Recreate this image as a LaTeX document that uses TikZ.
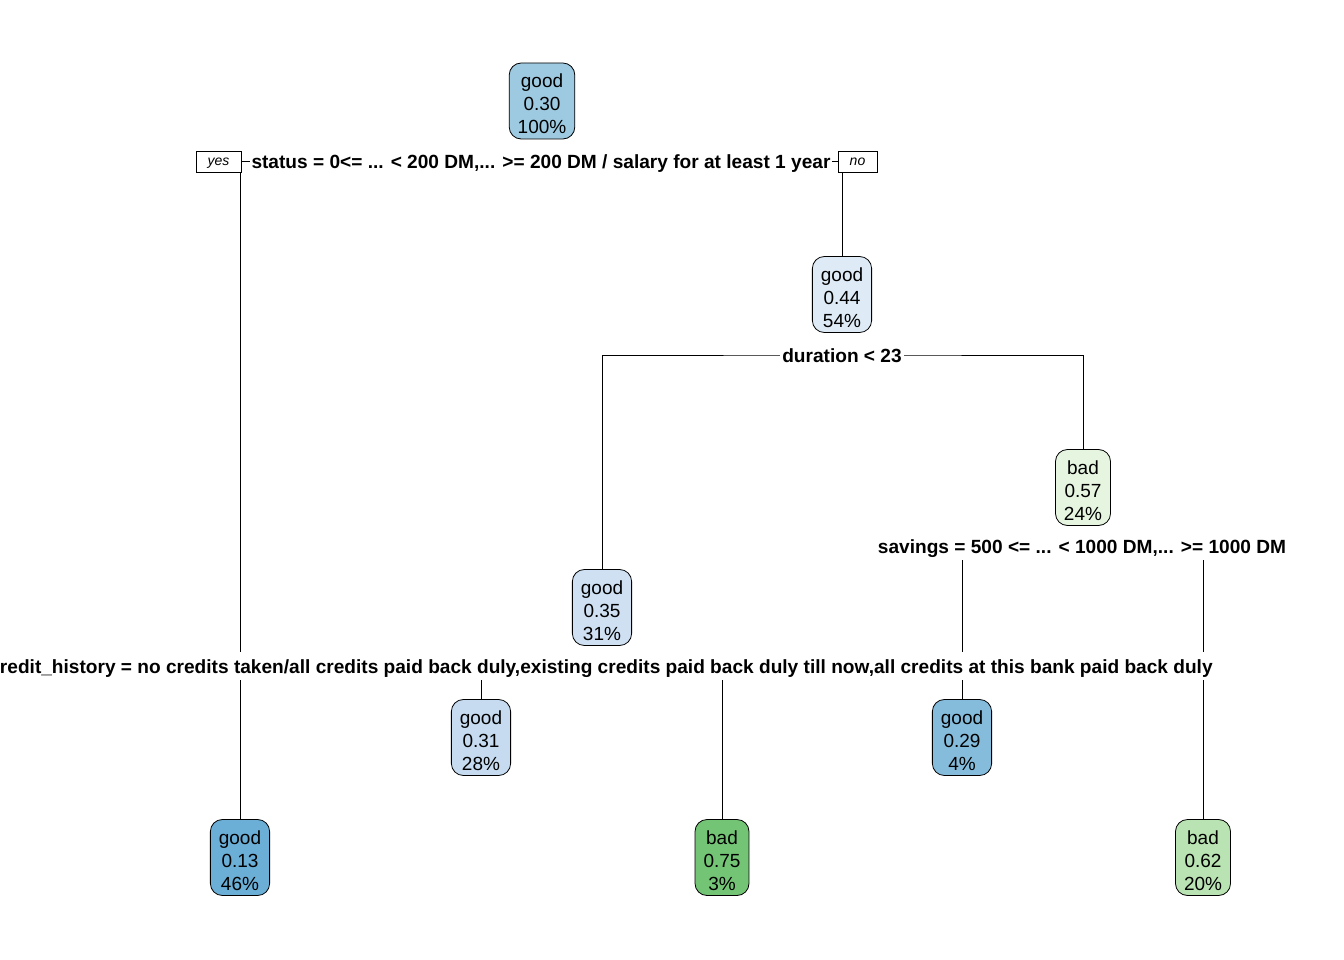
\documentclass[tikz,border=0pt]{standalone}
\usepackage{fontspec}
\setmainfont{Liberation Sans}
\usetikzlibrary{backgrounds}
\definecolor{cA}{RGB}{158,202,225}
\definecolor{cB}{RGB}{222,235,247}
\definecolor{cC}{RGB}{206,224,242}
\definecolor{cD}{RGB}{198,219,239}
\definecolor{cE}{RGB}{133,188,220}
\definecolor{cF}{RGB}{107,174,214}
\definecolor{gA}{RGB}{229,245,224}
\definecolor{gB}{RGB}{116,196,118}
\definecolor{gC}{RGB}{185,227,178}
\newcommand{\ntxt}[3]{\rule{0pt}{19.5pt}#1\\#2\\#3}
\begin{document}
\begin{tikzpicture}[x=1pt,y=-1pt,
  leaf/.style={draw=black, line width=0.8pt, rounded corners=12pt, align=center,
    font=\fontsize{19}{23}\selectfont, inner xsep=8.5pt, inner ysep=1pt, minimum height=76pt},
  splitlab/.style={fill=white, inner xsep=2pt, inner ysep=4.5pt, text height=17pt, text depth=2pt,
    font=\fontsize{19.1}{23}\selectfont\bfseries},
  yn/.style={draw, fill=white, line width=0.6pt, font=\fontsize{14}{16}\selectfont\itshape,
    minimum height=21pt, inner sep=2pt, text height=8pt, text depth=1pt},
  edge/.style={line width=0.8pt}]
\useasboundingbox (0,0) rectangle (1344,960);

\node[leaf, fill=cA] (root) at (542,101) {\ntxt{good}{0.30}{100\%}};
\node[splitlab] (s1) at (541,161) {status = 0<= ... < 200 DM,... >= 200 DM / salary for at least 1 year};
\node[yn, minimum width=45pt] (yes) at (218.5,162) {yes};
\node[yn, minimum width=39pt] (no) at (857.5,162) {no};

\node[leaf, fill=cB] (n044) at (842,294.5) {\ntxt{good}{0.44}{54\%}};
\node[splitlab] (dur) at (842,355) {duration < 23};

\node[leaf, fill=cC] (n035) at (602,607.5) {\ntxt{good}{0.35}{31\%}};
\node[leaf, fill=gA] (n057) at (1083,487.5) {\ntxt{bad}{0.57}{24\%}};
\node[splitlab] (sav) at (1082,546) {savings = 500 <= ... < 1000 DM,... >= 1000 DM};
\node[splitlab] (cred) at (601,666) {credit\_history = no credits taken/all credits paid back duly,existing credits paid back duly till now,all credits at this bank paid back duly};

\node[leaf, fill=cD] (n031) at (481,737.5) {\ntxt{good}{0.31}{28\%}};
\node[leaf, fill=cE] (n029) at (962,737.5) {\ntxt{good}{0.29}{4\%}};
\node[leaf, fill=cF] (n013) at (240,857.5) {\ntxt{good}{0.13}{46\%}};
\node[leaf, fill=gB] (n075) at (722,857.5) {\ntxt{bad}{0.75}{3\%}};
\node[leaf, fill=gC] (n062) at (1203,857.5) {\ntxt{bad}{0.62}{20\%}};

\begin{scope}[on background layer]
\draw[edge] (n013.north |- s1.center) -- (n044.north |- s1.center);
\draw[edge] (n013.north |- yes.south) -- (n013.north);
\draw[edge] (n044.north |- no.south) -- (n044.north);
\draw[edge] (n035.north) |- (dur.center) -| (n057.north);
\draw[edge] (n031.north) |- (cred.center) -| (n075.north);
\draw[edge] (n029.north) |- (sav.center) -| (n062.north);
\end{scope}
\end{tikzpicture}
\end{document}
